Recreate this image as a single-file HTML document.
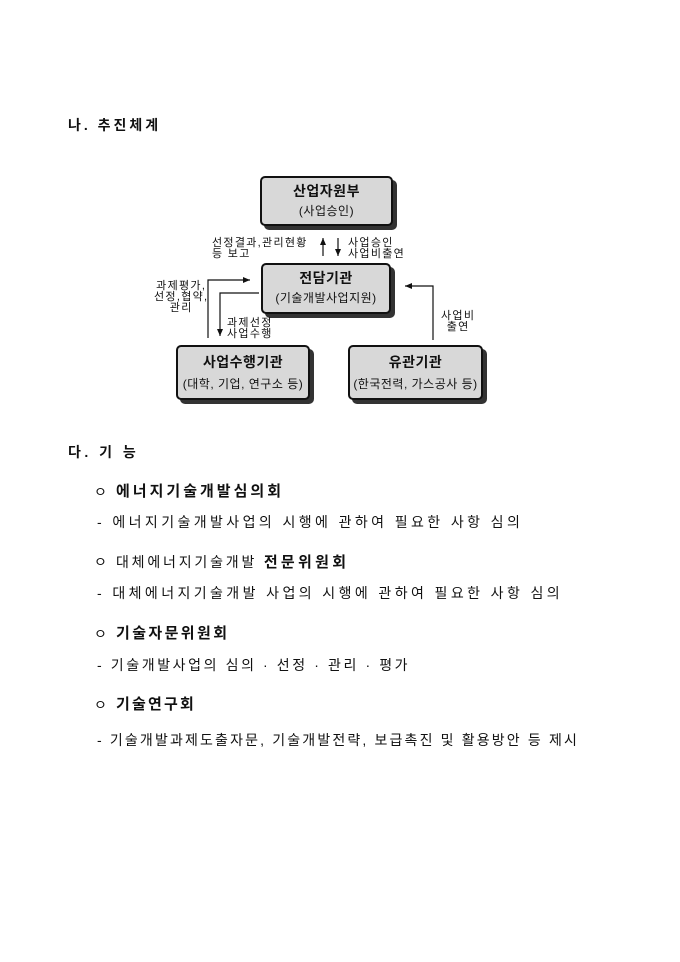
<!DOCTYPE html>
<html><head><meta charset="utf-8"><style>
body{margin:0;width:680px;height:962px;background:#fff;position:relative;overflow:hidden;font-family:"Liberation Sans","Noto Sans CJK KR","NanumGothic",sans-serif;color:#111}
.t{position:absolute;white-space:nowrap;font-size:14px;line-height:16px}
.b{font-weight:bold}
.box{position:absolute;background:#d8d8d8;border:2px solid #111;border-radius:5px;box-shadow:4px 4px 0 #333;text-align:center;box-sizing:border-box}
.box .h{font-weight:bold;font-size:14px;line-height:16px;margin-top:5px;letter-spacing:0.5px}
.box .s{font-size:12px;line-height:14px;margin-top:5px;letter-spacing:0.5px}
.sm{position:absolute;white-space:nowrap;font-size:11px;line-height:11px;letter-spacing:1.3px}
</style></head><body>
<div class="t b" style="left:68px;top:117px;letter-spacing:3px">나. 추진체계</div>

<div class="box" style="left:260px;top:176px;width:133px;height:50px"><div class="h">산업자원부</div><div class="s">(사업승인)</div></div>
<div class="box" style="left:261px;top:263px;width:130px;height:51px"><div class="h">전담기관</div><div class="s">(기술개발사업지원)</div></div>
<div class="box" style="left:176px;top:345px;width:134px;height:55px"><div class="h" style="margin-top:7px">사업수행기관</div><div class="s" style="margin-top:7px">(대학, 기업, 연구소 등)</div></div>
<div class="box" style="left:348px;top:345px;width:135px;height:55px"><div class="h" style="margin-top:7px">유관기관</div><div class="s" style="margin-top:7px">(한국전력, 가스공사 등)</div></div>

<svg style="position:absolute;left:0;top:0" width="680" height="962">
<defs><marker id="a" markerWidth="8" markerHeight="8" refX="7" refY="4" orient="auto" markerUnits="userSpaceOnUse"><path d="M0,1 L7,4 L0,7 z" fill="#111"/></marker></defs>
<g stroke="#111" stroke-width="1.2" fill="none">
<line x1="323" y1="256" x2="323" y2="238" marker-end="url(#a)"/>
<line x1="338" y1="238" x2="338" y2="256" marker-end="url(#a)"/>
<polyline points="208,338 208,280 250,280" marker-end="url(#a)"/>
<polyline points="259,293 220,293 220,336" marker-end="url(#a)"/>
<polyline points="433,340 433,286 405,286" marker-end="url(#a)"/>
</g></svg>
<div class="sm" style="left:212px;top:238px">선정결과,관리현황<br>등 보고</div>
<div class="sm" style="left:348px;top:238px">사업승인<br>사업비출연</div>
<div class="sm" style="left:154px;top:281px;text-align:center">과제평가,<br>선정,협약,<br>관리</div>
<div class="sm" style="left:227px;top:318px">과제선정<br>사업수행</div>
<div class="sm" style="left:441px;top:311px;text-align:center">사업비<br>출연</div>

<div class="t b" style="left:68px;top:444px;letter-spacing:3.5px">다. 기 능</div>
<div class="t" style="left:94px;top:484px">ㅇ</div>
<div class="t b" style="left:116px;top:484px;font-size:15px;letter-spacing:3px">에너지기술개발심의회</div>
<div class="t" style="left:97px;top:514px;letter-spacing:3.4px">- 에너지기술개발사업의 시행에 관하여 필요한 사항 심의</div>
<div class="t" style="left:94px;top:554px">ㅇ</div>
<div class="t" style="left:116px;top:554px;letter-spacing:2.8px">대체에너지기술개발 <span class="b" style="font-size:15px;letter-spacing:3.3px">전문위원회</span></div>
<div class="t" style="left:97px;top:585px;letter-spacing:3.4px">- 대체에너지기술개발 사업의 시행에 관하여 필요한 사항 심의</div>
<div class="t" style="left:94px;top:626px">ㅇ</div>
<div class="t b" style="left:116px;top:626px;font-size:15px;letter-spacing:2.4px">기술자문위원회</div>
<div class="t" style="left:97px;top:657px;letter-spacing:2.6px">- 기술개발사업의 심의 · 선정 · 관리 · 평가</div>
<div class="t" style="left:94px;top:697px">ㅇ</div>
<div class="t b" style="left:116px;top:697px;font-size:15px;letter-spacing:2.2px">기술연구회</div>
<div class="t" style="left:97px;top:732px;letter-spacing:2.15px">- 기술개발과제도출자문, 기술개발전략, 보급촉진 및 활용방안 등 제시</div>
</body></html>
